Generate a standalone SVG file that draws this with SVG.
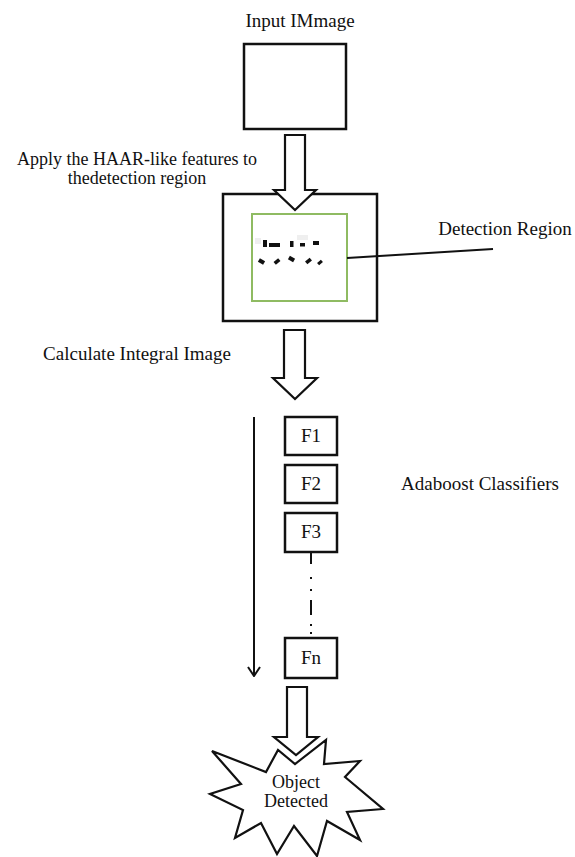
<svg xmlns="http://www.w3.org/2000/svg" width="575" height="857" viewBox="0 0 575 857">
  <style>
    .lbl { font-family: "Liberation Serif", "Times New Roman", serif; font-size: 19px; fill: #111; }
    .tight { font-size: 18px; }
    .box { fill: #fff; stroke: #111; stroke-width: 2.5; }
    .flow { fill: #fff; stroke: #111; stroke-width: 2.2; stroke-linejoin: miter; }
    .haar { fill: #111; }
    .ghost { fill: #efefef; }
    .wire { stroke: #111; stroke-width: 2; }
  </style>
  <defs>
    <marker id="chevron" viewBox="0 0 12 14" refX="11" refY="7" markerWidth="12" markerHeight="14" markerUnits="userSpaceOnUse" orient="auto">
      <path d="M2,1 L11,7 L2,13" fill="none" stroke="#111" stroke-width="2"/>
    </marker>
  </defs>

  <rect width="575" height="857" fill="#fff"/>

  <!-- input image -->
  <g id="input-image">
    <text class="lbl" x="300" y="27" text-anchor="middle">Input IMmage</text>
    <rect class="box" x="244" y="44" width="102" height="85"/>
  </g>

  <!-- detection region with haar-like features -->
  <g id="detection">
    <rect class="box" x="223" y="194" width="154" height="127"/>
    <rect x="252" y="214" width="95" height="87" fill="#fff" stroke="#8fbb62" stroke-width="2"/>
    <g id="haar-features">
      <rect class="ghost" x="255" y="238" width="6" height="6"/>
      <rect class="ghost" x="297" y="235" width="11" height="5"/>
      <rect class="haar" x="263" y="240" width="4" height="7"/>
      <rect class="haar" x="269" y="243" width="11" height="4"/>
      <rect class="haar" x="290" y="241" width="3.5" height="6"/>
      <rect class="haar" x="300" y="243" width="5" height="3.5"/>
      <rect class="haar" x="313" y="241" width="6" height="4"/>
      <rect class="haar" x="-3" y="-2" width="6" height="4" transform="translate(261.5,261.5) rotate(30)"/>
      <rect class="haar" x="-3" y="-1.8" width="6" height="3.6" transform="translate(277,261.5) rotate(-40)"/>
      <rect class="haar" x="-3" y="-2" width="6" height="4" transform="translate(291.5,259) rotate(30)"/>
      <rect class="haar" x="-3" y="-1.8" width="6" height="3.6" transform="translate(308.5,261) rotate(-40)"/>
      <rect class="haar" x="-2.5" y="-1.6" width="5" height="3.2" transform="translate(320,262.5) rotate(-40)"/>
    </g>
  </g>

  <g id="detection-label">
    <text class="lbl" x="505" y="235" text-anchor="middle">Detection Region</text>
  </g>

  <!-- step labels -->
  <g id="haar-step">
    <text class="lbl tight" x="137" y="165" text-anchor="middle">Apply the HAAR-like features to</text>
    <text class="lbl tight" x="137" y="184" text-anchor="middle">thedetection region</text>
  </g>
  <g id="integral-step">
    <text class="lbl" x="137" y="360" text-anchor="middle">Calculate Integral Image</text>
  </g>
  <g id="adaboost-label">
    <text class="lbl" x="480" y="490" text-anchor="middle">Adaboost Classifiers</text>
  </g>

  <!-- classifier cascade -->
  <g id="f1">
    <rect class="box" x="285" y="417" width="52" height="38"/>
    <text class="lbl" x="311" y="442" text-anchor="middle">F1</text>
  </g>
  <g id="f2">
    <rect class="box" x="285" y="465" width="52" height="38"/>
    <text class="lbl" x="311" y="490" text-anchor="middle">F2</text>
  </g>
  <g id="f3">
    <rect class="box" x="285" y="513" width="52" height="39"/>
    <text class="lbl" x="311" y="538" text-anchor="middle">F3</text>
  </g>
  <g id="fn">
    <rect class="box" x="285" y="638" width="52" height="40"/>
    <text class="lbl" x="311" y="664" text-anchor="middle">Fn</text>
  </g>

  <!-- result -->
  <g id="object-detected">
    <path class="flow" stroke-width="2.6" d="M212,751 L266,772 L278,750 L295,764 L326,740 L324,764 L360,761 L345,777 L383,809 L347,812 L360,840 L327,821 L317,856 L294,826 L277,854 L261,823 L235,838 L243,810 L210,794 L241,784 Z"/>
    <text class="lbl tight" x="296" y="788" text-anchor="middle">Object</text>
    <text class="lbl tight" x="296" y="807" text-anchor="middle">Detected</text>
  </g>

  <!-- connectors -->
  <g id="connectors">
    <path class="flow" d="M285,135 L305,135 L305,190 L316,190 L295,210 L274,190 L285,190 Z"/>
    <path class="flow" d="M284,330 L305,330 L305,378 L317,378 L295,399 L273,378 L284,378 Z"/>
    <path class="flow" d="M287,687 L307,687 L307,737 L318,737 L296,755 L274,737 L287,737 Z"/>
    <line class="wire" x1="347" y1="258" x2="493" y2="249"/>
    <line class="wire" x1="254" y1="417" x2="254" y2="676" marker-end="url(#chevron)"/>
    <line class="wire" x1="311" y1="552" x2="311" y2="564"/>
    <line class="wire" x1="311" y1="577" x2="311" y2="579"/>
    <line class="wire" x1="311" y1="589" x2="311" y2="591"/>
    <line class="wire" x1="311" y1="600" x2="311" y2="615"/>
    <line class="wire" x1="311" y1="624" x2="311" y2="626"/>
    <line class="wire" x1="311" y1="632" x2="311" y2="634"/>
  </g>
</svg>
